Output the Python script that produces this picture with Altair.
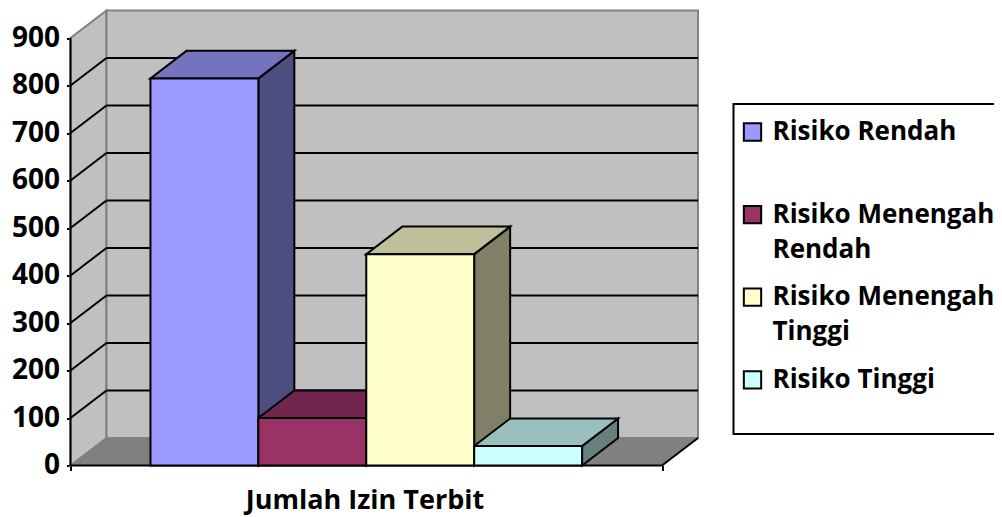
import json
import altair as alt
import pandas as pd

CATEGORIES = ["Risiko Rendah", "Risiko Menengah Rendah", "Risiko Menengah Tinggi", "Risiko Tinggi"]
VALUES = [815, 100, 445, 41]
FRONT = ["#9999FF", "#993366", "#FFFFCC", "#CCFFFF"]
SIDE = ["#4D4D80", "#73264D", "#808066", "#668080"]
TOP = ["#7373BF", "#73264D", "#BFBF99", "#99BFBF"]
TICKS = [0, 100, 200, 300, 400, 500, 600, 700, 800, 900]
LEGEND_LINES = {
    "Risiko Rendah": ["Risiko Rendah", " "],
    "Risiko Menengah Rendah": ["Risiko Menengah", "Rendah"],
    "Risiko Menengah Tinggi": ["Risiko Menengah", "Tinggi"],
    "Risiko Tinggi": ["Risiko Tinggi", " "],
}
AXIS_TITLE = "Jumlah Izin Terbit"

FONT = "Open Sans"
FS = 27
GAP = 0.741          # space left of the first bar, in bar widths
DX = 1 / 3           # depth, in bar widths
DV = 58              # depth, in value units
XF = 2 * GAP + 4     # front floor length
XMAX = XF + DX
VMAX = 900 + DV

xs = alt.Scale(domain=[0, XMAX], nice=False, zero=False)
ys = alt.Scale(domain=[0, VMAX], nice=False, zero=False)
axis_x = alt.Axis(values=[0, XF], labels=False, domain=False, grid=False, ticks=True,
                  tickColor="black", tickWidth=2, tickSize=5, title=AXIS_TITLE,
                  titleFont=FONT, titleFontSize=FS, titleFontWeight="bold", titleColor="black",
                  titleX=294, titleY=35, titleBaseline="middle")
axis_y = alt.Axis(values=TICKS, domain=False, grid=False, tickColor="black", tickWidth=2, tickSize=4,
                  labelFont=FONT, labelFontSize=28, labelFontWeight="bold", labelColor="black",
                  labelPadding=7, title=None)
X = alt.X("x:Q", scale=xs, axis=axis_x)
Y = alt.Y("y:Q", scale=ys, axis=axis_y)
X2 = alt.X2("x2:Q")
Y2 = alt.Y2("y2:Q")

# walls and floor
left_wall = pd.DataFrame({"x": [0, DX], "y": [0, DV], "y2": [900, VMAX]})
back_wall = pd.DataFrame({"x": [DX, XMAX], "y": [DV, DV], "y2": [VMAX, VMAX]})
floor = pd.DataFrame({"y": [0, DV], "x": [0, DX], "x2": [XF, XMAX]})

wall_style = dict(fill="#C0C0C0", stroke="#808080", strokeWidth=2)

layers = [
    alt.Chart(left_wall).mark_area(**wall_style).encode(x=X, y=Y, y2=Y2),
    alt.Chart(back_wall).mark_area(**wall_style).encode(x=X, y=Y, y2=Y2),
    alt.Chart(floor).mark_area(orient="horizontal", fill="#808080", stroke="#808080", strokeWidth=1).encode(
        y=Y, x=X, x2=X2),
]

# gridlines on side and back wall
grid_vals = [t for t in TICKS if 0 < t < 900]
side_grid = pd.DataFrame({"x": 0.0, "x2": DX, "y": grid_vals, "y2": [v + DV for v in grid_vals]})
back_grid = pd.DataFrame({"x": DX, "x2": XMAX, "y": [v + DV for v in grid_vals]})
layers += [
    alt.Chart(side_grid).mark_rule(color="black", strokeWidth=2).encode(x=X, x2=X2, y=Y, y2=Y2),
    alt.Chart(back_grid).mark_rule(color="black", strokeWidth=2).encode(x=X, x2=X2, y=Y),
]

# floor front edges
edges = pd.DataFrame({"x": [0.0, XF], "x2": [XF, XMAX], "y": [0, 0], "y2": [0, DV]})
y_line = pd.DataFrame({"x": [0.0], "y": [0], "y2": [900]})
layers += [
    alt.Chart(edges).mark_rule(color="black", strokeWidth=2).encode(x=X, x2=X2, y=Y, y2=Y2),
    alt.Chart(y_line).mark_rule(color="black", strokeWidth=2).encode(x=X, y=Y, y2=Y2),
]

# bars: side faces, top faces, front faces
side_rows, top_rows, front_rows = [], [], []
for i, (c, v) in enumerate(zip(CATEGORIES, VALUES)):
    x0 = GAP + i
    x1 = x0 + 1
    side_rows += [
        {"c": c, "x": x1, "y": 0, "y2": v, "f": SIDE[i]},
        {"c": c, "x": x1 + DX, "y": DV, "y2": v + DV, "f": SIDE[i]},
    ]
    top_rows += [
        {"c": c, "y": v, "x": x0, "x2": x1, "f": TOP[i]},
        {"c": c, "y": v + DV, "x": x0 + DX, "x2": x1 + DX, "f": TOP[i]},
    ]
    front_rows.append({"c": c, "x": x0, "x2": x1, "y": 0, "y2": v})

F = alt.Fill("f:N", scale=None, legend=None)
layers += [
    alt.Chart(pd.DataFrame(side_rows)).mark_area(stroke="black", strokeWidth=2).encode(
        x=X, y=Y, y2=Y2, fill=F, detail="c:N"),
    alt.Chart(pd.DataFrame(top_rows)).mark_area(orient="horizontal", stroke="black", strokeWidth=2).encode(
        y=Y, x=X, x2=X2, fill=F, detail="c:N"),
    alt.Chart(pd.DataFrame(front_rows)).mark_rect(stroke="black", strokeWidth=2).encode(
        x=X, x2=X2, y=Y, y2=Y2,
        color=alt.Color("c:N", scale=alt.Scale(domain=CATEGORIES, range=FRONT), sort=CATEGORIES,
                        legend=alt.Legend(
                            orient="none", legendX=663, legendY=93.5, title=" ",
                            titleFontSize=6, titlePadding=3,
                            direction="vertical", columns=1,
                            symbolType="square", symbolSize=300, symbolStrokeColor="black",
                            symbolStrokeWidth=2, symbolOpacity=1,
                            labelFont=FONT, labelFontSize=26, labelFontWeight="bold",
                            labelColor="black", labelLimit=400, labelOffset=7,
                            labelExpr=json.dumps(LEGEND_LINES) + "[datum.label]",
                            labelBaseline="middle", rowPadding=21.6,
                            padding=6, strokeColor="black",
                        )),
    ),
]

chart = alt.layer(*layers).resolve_scale(fill="independent", color="independent").properties(
    width=627.5, height=455,
    autosize=alt.AutoSizeParams(type="none"),
    padding={"left": 62.5, "top": 2.5, "right": 296, "bottom": 50},
    config=alt.Config(view=alt.ViewConfig(stroke=None), legend=alt.LegendConfig(strokeWidth=2),
                      style={"guide-label": {"lineHeight": 35}}),
)

chart.save("out.html", embed_options={"renderer": "svg", "actions": False})
